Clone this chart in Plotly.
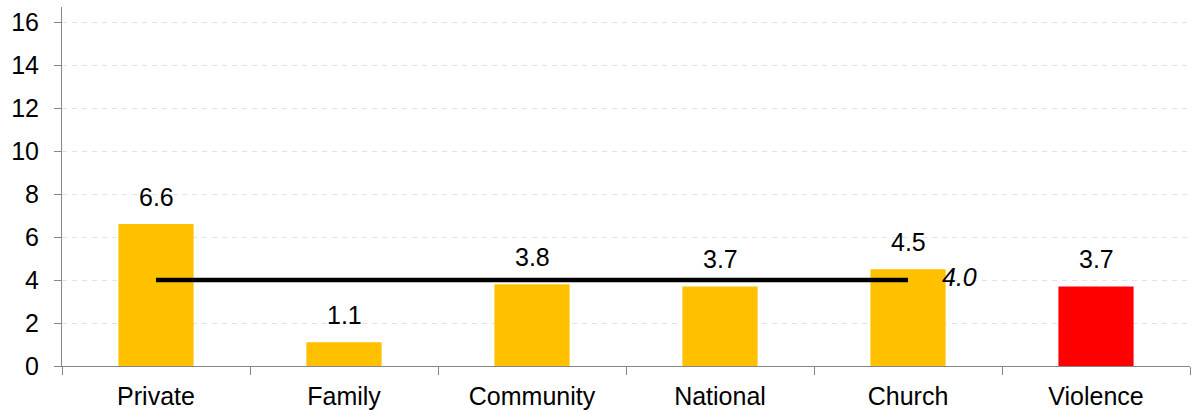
import plotly.graph_objects as go

categories = ["Private", "Family", "Community", "National", "Church", "Violence"]
values = [6.6, 1.1, 3.8, 3.7, 4.5, 3.7]
bar_colors = ["#FFC000", "#FFC000", "#FFC000", "#FFC000", "#FFC000", "#FF0000"]
avg_categories = ["Private", "Family", "Community", "National", "Church"]
avg_values = [4.0, 4.0, 4.0, 4.0, 4.0]
avg_label = "4.0"
y_ticks = [0, 2, 4, 6, 8, 10, 12, 14, 16]

font_family = "Liberation Sans, Arial, sans-serif"
FS = 25

fig = go.Figure()
fig.add_trace(go.Bar(
    x=categories, y=values, marker=dict(color=bar_colors, line=dict(width=0)),
    width=0.4, showlegend=False, hoverinfo="x+y",
))
for c, v in zip(categories, values):
    fig.add_annotation(
        x=c, y=v, text=f"{v:.1f}", showarrow=False,
        yanchor="bottom", yshift=11,
        font=dict(size=FS, color="#000000", family=font_family),
    )
fig.add_trace(go.Scatter(
    x=avg_categories, y=avg_values, mode="lines",
    line=dict(color="#000000", width=4.5), showlegend=False,
))
fig.add_annotation(
    x=avg_categories[-1], y=avg_values[-1], text=f"<i>{avg_label}</i>",
    showarrow=False, xanchor="left", xshift=32, yshift=3,
    font=dict(size=FS, color="#000000", family=font_family),
)

fig.update_layout(
    width=1194, height=411,
    margin=dict(l=62, r=4, t=7, b=45, autoexpand=False),
    plot_bgcolor="white", paper_bgcolor="white",
    font=dict(family=font_family, size=FS, color="#000000"),
    xaxis=dict(
        type="category", categoryorder="array", categoryarray=categories,
        showline=True, linecolor="#868686", linewidth=1,
        ticks="outside", tickson="boundaries", ticklen=8, tickcolor="#868686",
        showgrid=False, tickfont=dict(size=FS), ticklabelstandoff=8,
    ),
    yaxis=dict(
        range=[0, 16.7], tickvals=y_ticks,
        showline=True, linecolor="#868686", linewidth=1,
        ticks="outside", ticklen=7, tickcolor="#868686",
        showgrid=True, gridcolor="#E3E3E3", griddash="5px,5px", gridwidth=1,
        zeroline=False, tickfont=dict(size=FS), ticklabelstandoff=10,
    ),
)

fig.write_html("out.html")
